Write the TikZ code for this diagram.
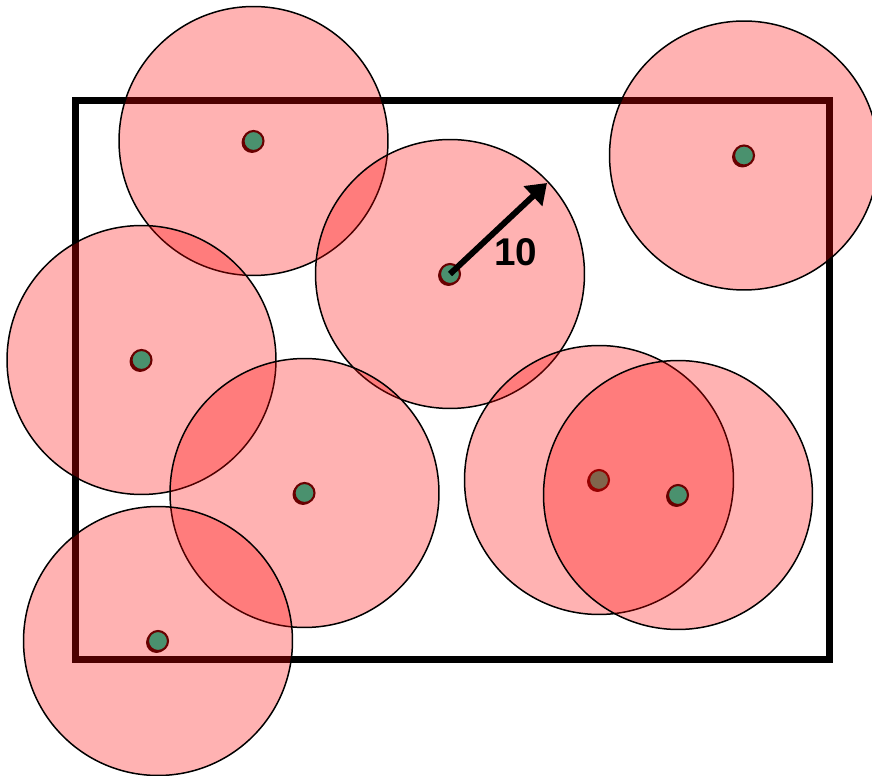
\documentclass[tikz,border=0pt]{standalone}
\usepackage{fontspec}
\setmainfont{Liberation Sans}
\usetikzlibrary{arrows.meta}
\definecolor{dotgreen}{RGB}{74,145,110}
\definecolor{dotred}{RGB}{105,0,0}
\tikzset{
  zone/.style={draw=black, line width=0.85pt, fill=red, fill opacity=0.3},
  frame/.style={draw=black, line width=3.6pt},
  dotshadow/.style={fill=dotred},
  dot/.style={fill=dotgreen, draw=dotred, line width=1.2pt},
  radiusarrow/.style={line width=3.4pt, -{Triangle[length=11pt,width=15pt]}},
  lbl/.style={font=\fontsize{22}{24}\selectfont\bfseries, text=black}
}
\newcommand{\zonewithdot}[1]{%
  \path[zone] (#1) circle[radius=2.69cm];
  \path[dotshadow] ($(#1)+(-1.5,1.5)$) circle[radius=0.21cm];
  \path[dot] (#1) circle[radius=0.2cm];
}
\usetikzlibrary{calc}
\begin{document}
\begin{tikzpicture}[x=0.02cm,y=-0.02cm]
\useasboundingbox (0,0) rectangle (872,776);
\clip (0,0) rectangle (872,776);
\coordinate (c1) at (253.5,141);
\coordinate (c2) at (450,274);
\coordinate (c3) at (744,155.5);
\coordinate (c4) at (141.5,360);
\coordinate (c5) at (304.5,493);
\coordinate (c6) at (158,641);
\coordinate (c7) at (599,480);
\coordinate (c8) at (678,495);
\coordinate (tip) at (547,183);
\draw[frame] (75.5,100.5) rectangle (829.5,659.5);
\zonewithdot{c1}
\zonewithdot{c2}
\zonewithdot{c3}
\zonewithdot{c4}
\zonewithdot{c5}
\zonewithdot{c6}
\zonewithdot{c7}
\zonewithdot{c8}
\draw[radiusarrow] (c2) -- (tip);
\node[lbl] (len) at (516,252) {10};
\end{tikzpicture}
\end{document}
